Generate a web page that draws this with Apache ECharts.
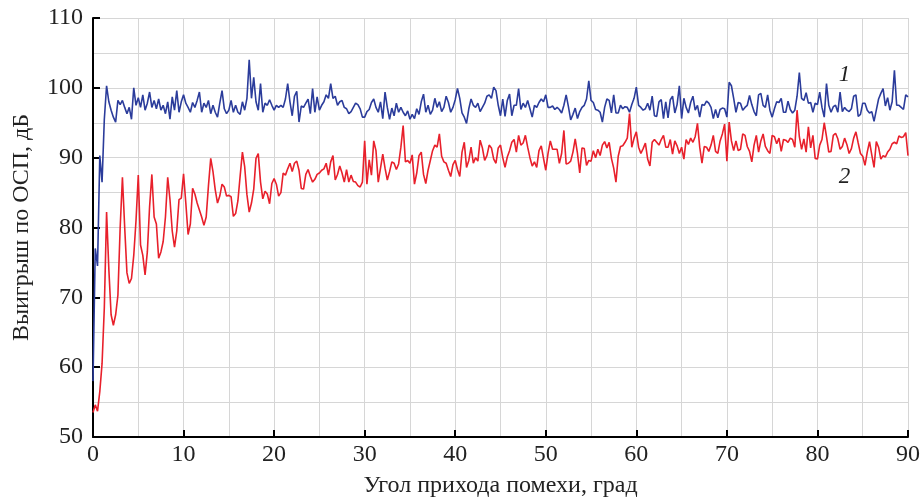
<!DOCTYPE html>
<html>
<head>
<meta charset="utf-8">
<script src="https://cdn.jsdelivr.net/npm/echarts@6/dist/echarts.min.js"></script>
<style>
html,body{margin:0;padding:0;background:#fff;}
#chart{width:923px;height:503px;}
</style>
</head>
<body>
<div id="chart"></div>
<script>
// Angle step of the sampled curves (degrees)
const angleStep = 0.25;

// Curve 1 (blue), angle 0..90 deg, step 0.25
const curve1 = [
  58, 77, 74.5, 90.3, 86.5, 95.5, 100.3, 98,
  96.8, 95.8, 95.1, 98.2, 97.6, 98.2, 97.2, 96.3,
  97.2, 95.5, 100, 97.5, 98.6, 97.2, 99, 96.8,
  97.8, 99.4, 97.2, 98.2, 97, 98.4, 96.8, 97.5,
  96.3, 98, 95.5, 98.7, 96.8, 99.6, 96.5, 98,
  99, 97.8, 97.2, 96.5, 97.9, 97.2, 98.2, 99.4,
  96.5, 97.8, 97.2, 98.2, 96.3, 97.5, 96.5, 95.8,
  97.8, 99.6, 97, 96.3,
  96.8, 98.2, 96.5, 97.5, 96.5, 96.2, 98, 96.8,
  98.5, 104, 98.5, 101.5, 98, 96.8, 100.6, 96.5,
  97.8, 97.5, 98.3, 97.5, 96.8, 97.5, 97.2, 97.5,
  97.2, 98.4, 100.6, 98, 96, 98.8, 99.5, 95.1,
  97.4, 97.2, 97.8, 98.4, 96.3, 99.9, 96.5, 98.7,
  96.8, 97.5, 98, 99, 98.5, 100.6, 98.5, 98.8,
  97.5, 98, 98.2, 97.2, 97, 96.3, 96.6, 97.2,
  97.8, 97.6, 97, 95.8,
  95.8, 96.6, 96.9, 97.9, 98.4, 97.2, 96.5, 98,
  95.6, 99.4, 97.2, 95.5, 97.1, 96, 97.8, 96.5,
  97.2, 96.5, 96, 96.7, 95.5, 96.2, 95.6, 97,
  96.2, 98, 99.1, 96.5, 97.5, 96.2, 96.8, 98.5,
  97.2, 98, 96.6, 97.2, 98.8, 97.9, 96.5, 97.2,
  98.3, 99.9, 98.5, 96.4, 95.8, 94.9, 97, 98.4,
  97.5, 97.2, 97.8, 96.6, 97.2, 97.8, 98.8, 99,
  98.5, 100.1, 99.6, 97.5,
  96, 98.4, 95.9, 98.2, 99.1, 96, 97.5, 97.5,
  99.9, 96.9, 97.8, 97.2, 98.2, 97, 95.8, 97.5,
  97.2, 97.9, 98.4, 98, 99, 97.2, 97.2, 97.4,
  96.9, 97.2, 96.9, 96.4, 97.5, 99, 97.3, 95.4,
  96.2, 97.1, 95.6, 96.6, 97.2, 97.5, 98.4, 101,
  98.2, 97.9, 96.9, 96.8, 96.5, 95.1, 97.2, 98.4,
  98.2, 96.4, 99, 96.4, 96.4, 97.5, 97, 97.3,
  97.2, 96.5, 97.6, 98.5,
  100.1, 97.5, 97.2, 96.8, 97, 97.8, 96.8, 98.8,
  96, 95.9, 98, 98.3, 95.6, 98, 95.7, 98.3,
  98.8, 96.4, 97.6, 100.3, 95.6, 98.5, 97.2, 96.4,
  97.9, 98.8, 96.8, 97.5, 95.8, 97.6, 97.5, 98.1,
  97.8, 97.2, 95.6, 96.9, 95.7, 96.9, 97.1, 97,
  95.8, 100.8, 100.3, 98.5, 96.5, 97.9, 97.8, 96.8,
  97.2, 97.5, 98.9, 97.6, 96.6, 96, 99, 99.2,
  97.5, 97.2, 99, 96.8, 95.8, 97, 98, 97.9,
  98.5, 96.5, 96.5, 98.1, 96.9, 96.4, 96.8, 98.8,
  102.2, 98.5, 98.2, 99.3, 97.8, 97.9, 96.5, 97.8,
  97.6, 99.4, 97.2, 95.8, 100.6, 97.5, 96.5, 97.3,
  97.5, 96.5, 99.4, 96.6, 97.2, 96.8, 96.6, 97,
  98.8, 99, 95.9, 96.2, 97.8, 97.8, 96.8, 96.4,
  96.6, 95.2, 96.8, 98.4, 99.2, 99.9, 97.4, 98.6,
  96.8, 98, 102.5, 97.5, 97.5, 97.2, 96.9, 99,
  98.7
];

// Curve 2 (red), angle 0..90 deg, step 0.25
const curve2 = [
  53.5, 54.6, 53.7, 56.5, 60.5, 68.5, 82.2, 74,
  67.5, 66, 67.5, 70.3, 80, 87.2, 80, 73.5,
  72, 72.7, 76, 81, 87.5, 77.5, 76, 73.2,
  76.5, 83, 87.6, 81.5, 80.5, 75.6, 76.5, 78,
  81.5, 87.2, 84, 79.5, 77.2, 79.5, 84, 84.2,
  87.7, 83.5, 79, 80.5, 85.6, 84.8, 83.5, 82.5,
  81.5, 80.3, 81.5, 86, 89.9, 88, 85.4, 83.5,
  84.5, 86.2, 85.8, 84.5,
  84.6, 84.4, 81.6, 82, 83.8, 87.4, 90.8, 88.7,
  84.7, 82.2, 83.5, 85.5, 89.9, 90.6, 86.5, 84.1,
  85.2, 84.8, 83.4, 86.3, 87, 86.2, 84.5, 85,
  87.8, 87.5, 88.4, 89.2, 88, 89.2, 89.5, 88.2,
  85.6, 85.5, 87.6, 88.3, 87.3, 86.5, 86.9, 87.6,
  87.8, 88.2, 88.4, 89.2, 87.5, 89.4, 90.3, 86.8,
  87.6, 88.8, 87.8, 86.5, 88.3, 86.5, 87.5, 86.6,
  86.5, 86, 85.8, 86.5,
  92.4, 86.2, 89.7, 87.5, 92.4, 91, 86.5, 88.5,
  90.5, 88.5, 86.8, 88, 89.4, 89.2, 88.3, 89.1,
  91.5, 94.6, 89.4, 89.6, 89.2, 90.4, 86.2, 87.8,
  90.3, 90.8, 87.6, 86.3, 88.2, 89.6, 91, 91.8,
  91.5, 93.4, 90.2, 89.4, 89.2, 88.2, 87.3, 89,
  89.6, 88.3, 87.3, 90.8, 92.2, 88.6, 89.6, 91.5,
  89.2, 90, 89.5, 92.5, 91.4, 89.6, 90.3, 91.8,
  91.4, 89.8, 89.2, 91.4,
  91.8, 90, 88.6, 90.1, 91, 92.2, 92.6, 90.8,
  93.2, 91.8, 92.1, 93.2, 91.5, 90, 88.8, 89.4,
  88.6, 91, 91.7, 89.9, 88.2, 90.6, 92.4, 91.2,
  91.2, 91.2, 89.2, 90.6, 93.9, 89.1, 89.2, 89.5,
  90.8, 92.7, 90.6, 87.8, 91.4, 91.3, 88.9, 89.6,
  89.5, 91, 90, 91.2, 90.3, 91.8, 92.3, 91.4,
  92.2, 89.9, 88.5, 86.5, 90.2, 91.6, 91.7, 92.2,
  92.8, 96.3, 91.5, 92.8,
  93.7, 91.5, 90.6, 91.3, 92.1, 89.8, 88.8, 92.2,
  92.6, 92.2, 91.8, 92.6, 93.2, 91.5, 91.5, 92.6,
  90.5, 92.4, 91.7, 90.6, 91.5, 89.8, 92.6, 91.9,
  92.8, 92.2, 93, 94.9, 91.5, 89.2, 91.6, 91.5,
  90.9, 91.8, 93.2, 90.9, 90.6, 92.4, 93.4, 94.8,
  89.5, 95.1, 92.4, 91, 92.4, 91, 91.2, 93.4,
  93.2, 91.6, 90.9, 89.4, 91.8, 93.2, 90.8, 92.4,
  93.4, 91.6, 91, 90.6, 93.2, 93, 92, 92.8,
  90.9, 92.6, 92.5, 92.2, 92.8, 92.6, 91.5, 96.8,
  93, 91.2, 92.7, 90.8, 94.4, 91.4, 93.2, 89.9,
  89.8, 91.8, 92.6, 95, 93, 90.8, 90.9, 93.2,
  93.5, 92.7, 91.2, 91.6, 92.8, 91.9, 90.6, 91.3,
  92.8, 93.7, 92.1, 90.6, 90.2, 88.9, 90.8, 92.3,
  90.4, 88.6, 92.3, 91.5, 89.8, 90.3, 90.1, 90.8,
  91.2, 92, 92.2, 92, 93.1, 92.9, 93, 93.6,
  90.3
];

// Curve labels and their anchor points (angle, dB)
const curveNames = ['1', '2'];
const labelPoints = [[83, 101.9], [83, 87.3]];

// Axis settings
const xRange = [0, 90];
const yRange = [50, 110];
const xTitle = 'Угол прихода помехи, град';
const yTitle = 'Выигрыш по ОСП, дБ';

function toPairs(arr) {
  return arr.map((v, i) => [i * angleStep, v]);
}

const serif = "'Liberation Serif', 'DejaVu Serif', serif";
const gridColor = '#d6d6d6';

function axisCommon(range) {
  return {
    type: 'value',
    min: range[0],
    max: range[1],
    interval: 10,
    axisLine: { show: true, lineStyle: { color: '#000', width: 2 } },
    axisTick: { show: true, inside: true, length: 7, lineStyle: { color: '#000', width: 2 } },
    axisLabel: { color: '#222', fontSize: 24, fontFamily: serif },
    splitLine: { show: true, lineStyle: { color: gridColor, width: 1 } },
    minorTick: { show: false, splitNumber: 2 },
    minorSplitLine: { show: true, lineStyle: { color: gridColor, width: 1 } },
    nameLocation: 'middle',
    nameTextStyle: { color: '#222', fontSize: 24, fontFamily: serif }
  };
}

const xAxis = Object.assign(axisCommon(xRange), {
  name: xTitle, nameGap: 37
});
xAxis.axisLabel = Object.assign({}, xAxis.axisLabel, { margin: 6 });

const yAxis = Object.assign(axisCommon(yRange), {
  name: yTitle, nameGap: 59
});
yAxis.axisLabel = Object.assign({}, yAxis.axisLabel, { margin: 10 });

function mark(name, pt) {
  return {
    symbol: 'circle',
    symbolSize: 1,
    itemStyle: { color: 'rgba(0,0,0,0)' },
    label: {
      show: true, position: 'inside', formatter: name,
      fontStyle: 'italic', fontSize: 23, color: '#222', fontFamily: serif
    },
    data: [{ coord: pt }]
  };
}

const chart = echarts.init(document.getElementById('chart'), null, { renderer: 'canvas' });
chart.setOption({
  animation: false,
  backgroundColor: '#fff',
  grid: { left: 93, right: 15, top: 18, bottom: 64 },
  xAxis: xAxis,
  yAxis: yAxis,
  series: [
    {
      type: 'line', data: toPairs(curve2), showSymbol: false,
      lineStyle: { color: '#e8202b', width: 1.6 }, itemStyle: { color: '#e8202b' },
      markPoint: mark(curveNames[1], labelPoints[1])
    },
    {
      type: 'line', data: toPairs(curve1), showSymbol: false,
      lineStyle: { color: '#2b3c9b', width: 1.6 }, itemStyle: { color: '#2b3c9b' },
      markPoint: mark(curveNames[0], labelPoints[0])
    }
  ]
});
</script>
</body>
</html>
